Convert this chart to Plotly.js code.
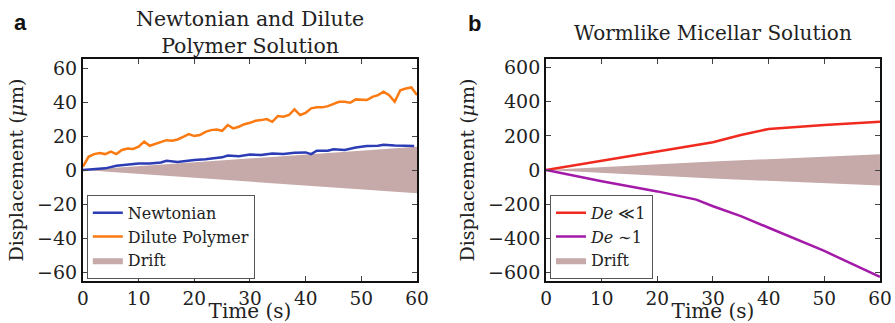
<!DOCTYPE html>
<html><head><meta charset="utf-8">
<script src="https://cdn.plot.ly/plotly-3.0.1.min.js"></script>
<style>html,body{margin:0;padding:0;background:#fff}#plot{width:895px;height:323px}</style>
</head><body><div id="plot"></div>
<script>
// Panel a data
const tOrange = [0,1,2,3,4,5,6,7,8,9,10,11,12,13,14,15,16,17,18,19,20,21,22,23,24,25,26,27,28,29,30,31,32,33,34,35,36,37,38,39,40,41,42,43,44,45,46,47,48,49,50,51,52,53,54,55,56,57,58,59,60];
const dilutePolymer = [2,7.8,9.4,10,9.4,10.8,9.4,11.8,12.7,12.4,13.7,16.7,14.3,15.3,16.7,17.6,17.3,18,19.6,21.2,20,20.6,22.5,23.5,23.9,23.1,26.5,24.5,25.5,27,27.8,29,29.4,30,28.4,31.8,31.4,32.4,35.7,32.4,33.7,36.3,36.9,36.9,37.6,38.8,40.2,40.2,39.6,41.6,41.6,41.2,43.1,44.1,46.1,44.1,40.2,47,48,48.6,44.1];
const tBlue = [0,2,4,6,8,10,12,14,15,17,20,22,25,26,28,30,32,34,36,38,40,41,42,44,45,47,49,51,53,54,56,58,59.5];
const newtonian = [0,0.4,1,2.5,3.3,3.9,3.9,4.5,5.5,4.7,5.9,6.3,7.5,8.6,8.2,9.2,8.8,9.8,9.4,10.2,10.4,9.4,11.4,11.4,12.2,11.8,13.3,14.1,14.3,14.9,14.5,14.3,14.1];
const tDriftA = [0,60];
const driftUpperA = [0,13.7];
const driftLowerA = [0,-13.7];
// Panel b data
const tB = [0,10,20,27,30,35,40,50,60];
const deLow = [0,54,108,147,163,205,241,264,283];
const deOne = [0,-66,-125,-173,-212,-270,-338,-474,-626];
const tDriftB = [0,30,60];
const driftUpperB = [0,50,92];
const driftLowerB = [0,-50,-90];
const xTicks = [0,10,20,30,40,50,60];
const yTicksA = [-60,-40,-20,0,20,40,60];
const yTicksB = [-600,-400,-200,0,200,400,600];

const driftColor = '#c6a9a9';
const serif = 'DejaVu Serif';
function band(t, up, lo){ return {x: t.concat(t.slice().reverse()), y: up.concat(lo.slice().reverse())}; }
const bA = band(tDriftA, driftUpperA, driftLowerA);
const bB = band(tDriftB, driftUpperB, driftLowerB);

const traces = [
  {x:bA.x, y:bA.y, mode:'lines', fill:'toself', fillcolor:driftColor, line:{width:0, color:driftColor}, name:'Drift', xaxis:'x', yaxis:'y', legend:'legend', legendrank:3},
  {x:tBlue, y:newtonian, mode:'lines', name:'Newtonian', line:{color:'#2c3cb4', width:2.5}, xaxis:'x', yaxis:'y', legend:'legend', legendrank:1},
  {x:tOrange, y:dilutePolymer, mode:'lines', name:'Dilute Polymer', line:{color:'#fb7a12', width:2.5}, xaxis:'x', yaxis:'y', legend:'legend', legendrank:2},
  {x:bB.x, y:bB.y, mode:'lines', fill:'toself', fillcolor:driftColor, line:{width:0, color:driftColor}, name:'Drift', xaxis:'x2', yaxis:'y2', legend:'legend2', legendrank:3},
  {x:tB, y:deLow, mode:'lines', name:'<i>De</i> \u226a1', line:{color:'#f02a1e', width:2.5}, xaxis:'x2', yaxis:'y2', legend:'legend2', legendrank:1},
  {x:tB, y:deOne, mode:'lines', name:'<i>De</i> \u223c1', line:{color:'#a41aa8', width:2.5}, xaxis:'x2', yaxis:'y2', legend:'legend2', legendrank:2}
];

function xa(domain){ return {domain:domain, range:[0,60], tickvals:xTicks, ticks:'inside', ticklen:5, mirror:'allticks', showline:true, linecolor:'#111', linewidth:2, showgrid:false, zeroline:false, tickfont:{family:serif,size:18.5,color:'#222'}, title:{text:'Time (s)', font:{family:serif,size:20,color:'#222'}, standoff:4}}; }
function ya(anchor, range, ticks){ return {domain:[0.130,0.817], anchor:anchor, range:range, tickvals:ticks, ticks:'inside', ticklen:5, mirror:'allticks', showline:true, linecolor:'#111', linewidth:2, showgrid:false, zeroline:false, tickfont:{family:serif,size:19,color:'#222'}, title:{text:'Displacement (<i>\u03bc</i>m)', font:{family:serif,size:19,color:'#222'}, standoff:8}}; }

const legendBase = {bgcolor:'#fff', bordercolor:'#555', borderwidth:1, font:{family:serif,size:16,color:'#222'}, tracegroupgap:0, xanchor:'left', yanchor:'bottom', traceorder:'normal'};
const layout = {
  width:895, height:323, margin:{l:0,r:0,t:0,b:0}, paper_bgcolor:'#fff', plot_bgcolor:'#fff', showlegend:true,
  xaxis: Object.assign(xa([0.0927,0.4659]), {anchor:'y'}),
  yaxis: ya('x', [-65.3,65.3], yTicksA),
  xaxis2: Object.assign(xa([0.6101,0.9832]), {anchor:'y2'}),
  yaxis2: ya('x2', [-650,650], yTicksB),
  legend: Object.assign({}, legendBase, {x:0.097, y:0.137}),
  legend2: Object.assign({}, legendBase, {x:0.6145, y:0.137}),
  annotations:[
    {text:'<b>a</b>', x:20/895, y:1-22/323, xref:'paper', yref:'paper', xanchor:'center', yanchor:'middle', showarrow:false, font:{family:'Liberation Sans',size:22,color:'#111'}},
    {text:'<b>b</b>', x:474/895, y:1-24/323, xref:'paper', yref:'paper', xanchor:'center', yanchor:'middle', showarrow:false, font:{family:'Liberation Sans',size:22,color:'#111'}},
    {text:'Newtonian and Dilute<br>Polymer Solution', x:0.2793, y:1-32/323, xref:'paper', yref:'paper', xanchor:'center', yanchor:'middle', showarrow:false, font:{family:serif,size:20.5,color:'#222'}},
    {text:'Wormlike Micellar Solution', x:713/895, y:1-33/323, xref:'paper', yref:'paper', xanchor:'center', yanchor:'middle', showarrow:false, font:{family:serif,size:20,color:'#222'}}
  ]
};
Plotly.newPlot('plot', traces, layout, {displayModeBar:false, staticPlot:true});
</script></body></html>
